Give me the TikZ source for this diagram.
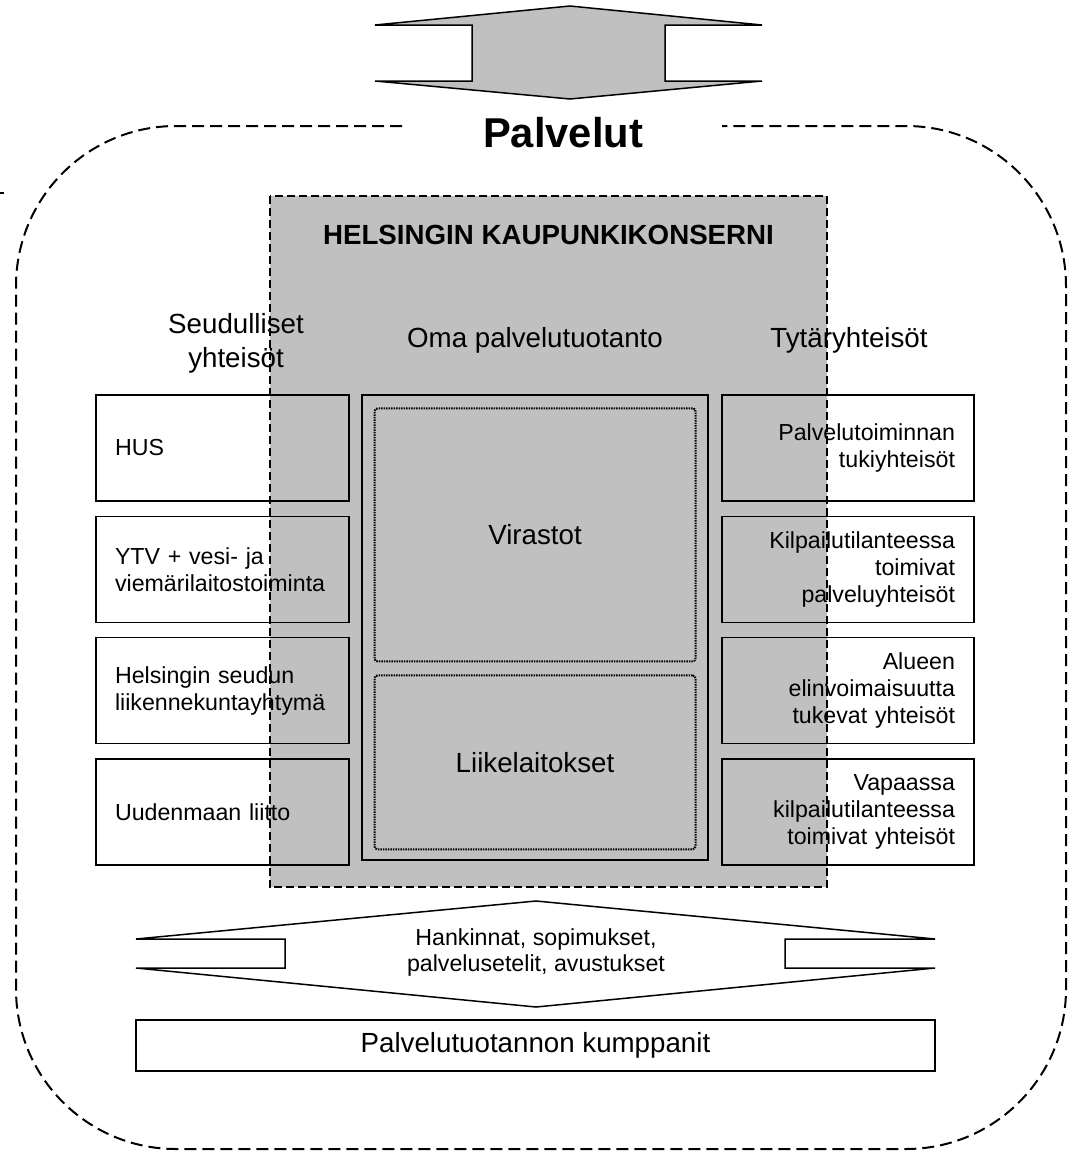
\documentclass[tikz,border=0pt]{standalone}
\usepackage{fontspec}
\setmainfont{Liberation Sans}
\usetikzlibrary{positioning}
\definecolor{konsernigray}{HTML}{C0C0C0}
\tikzstyle{member} = [rectangle, draw=black, line width=1.3pt, minimum height=106pt, inner xsep=19pt, font=\fontsize{23.2}{27}\selectfont]
\tikzstyle{seutu} = [member, text width=215pt, align=left]
\tikzstyle{tytar} = [member, text width=214pt, align=right]
\tikzstyle{heading} = [align=center, font=\fontsize{27.7}{34}\selectfont]
\tikzstyle{unit} = [rectangle, draw=black, line width=2pt, dash pattern=on 1.5pt off 1pt, rounded corners=3pt, minimum width=321pt, font=\fontsize{27.7}{34}\selectfont]
\tikzstyle{flow} = [draw=black, line width=1.5pt, line join=miter]

\begin{document}
\begin{tikzpicture}[x=1pt, y=-1pt]
\useasboundingbox (0,0) rectangle (1068,1152);

% Konserni area:
\node(konserni)[rectangle, fill=konsernigray, minimum width=557pt, minimum height=691pt] at (548.5,541.5) {};
\node(konsernititle)[font=\bfseries\fontsize{27.7}{34}\selectfont] at (548.5,235) {HELSINGIN KAUPUNKIKONSERNI};

% Top arrow:
\draw[flow, fill=konsernigray] (375,25) -- (570,6) -- (762,25) -- (665,25) -- (665,81) -- (762,81)
  -- (570,99) -- (375,81) -- (472,81) -- (472,25) -- cycle;

% Palvelut outline:
\node(palvelut)[font=\bfseries\fontsize{41.7}{48}\selectfont] at (563,133) {Palvelut};
\draw[line width=2pt, dash pattern=on 12pt off 6pt, rounded corners=160pt] (402,126) -- (16,126) -- (16,1149)
  -- (1066,1149) -- (1066,126) -- (722,126);
\draw[line width=1.3pt] (0,193) -- (4,193);

% Oma palvelutuotanto:
\node(oma)[rectangle, draw=black, line width=1.3pt, minimum width=346pt, minimum height=465pt] at (535,627.5) {};
\node(virastot)[unit, minimum height=253pt, below=13pt of oma.north] {Virastot};
\node(liike)[unit, minimum height=174pt, below=12pt of virastot] {Liikelaitokset};

% Seudulliset yhteisot:
\node(hus)[seutu, below left=0pt and 11.7pt of oma.north west] {HUS};
\node(ytv)[seutu, below=14pt of hus] {YTV + vesi- ja\\viemärilaitostoiminta};
\node(hsl)[seutu, below=14pt of ytv] {Helsingin seudun\\liikennekuntayhtymä};
\node(liitto)[seutu, below=14pt of hsl] {Uudenmaan liitto};

% Tytaryhteisot:
\node(tuki)[tytar, below right=0pt and 12.7pt of oma.north east] {Palvelutoiminnan\\tukiyhteisöt};
\node(kilpa)[tytar, below=14pt of tuki] {Kilpailutilanteessa\\toimivat\\palveluyhteisöt};
\node(alue)[tytar, below=14pt of kilpa] {Alueen\\elinvoimaisuutta\\tukevat yhteisöt};
\node(vapaa)[tytar, below=14pt of alue] {Vapaassa\\kilpailutilanteessa\\toimivat yhteisöt};

% Headings:
\node(seutuhead)[heading] at (236,343) {Seudulliset\\yhteisöt};
\node(omahead)[heading] at (535,340) {Oma palvelutuotanto};
\node(tytarhead)[heading] at (849,340) {Tytäryhteisöt};

% Konserni border:
\draw[line width=2pt, dash pattern=on 8pt off 4pt] (konserni.north west) rectangle (konserni.south east);

% Bottom arrow:
\draw[flow] (136,939) -- (536,901) -- (935,939) -- (785,939) -- (785,968) -- (935,968)
  -- (536,1007) -- (136,968) -- (285,968) -- (285,939) -- cycle;
\node(hankinnat)[align=center, font=\fontsize{23.2}{26}\selectfont] at (536,952) {Hankinnat, sopimukset,\\palvelusetelit, avustukset};

% Kumppanit:
\node(kumppanit)[rectangle, draw=black, line width=1.3pt, minimum width=799pt, minimum height=51pt, font=\fontsize{27.7}{34}\selectfont] at (535.5,1045.5) {Palvelutuotannon kumppanit};

\end{tikzpicture}
\end{document}
